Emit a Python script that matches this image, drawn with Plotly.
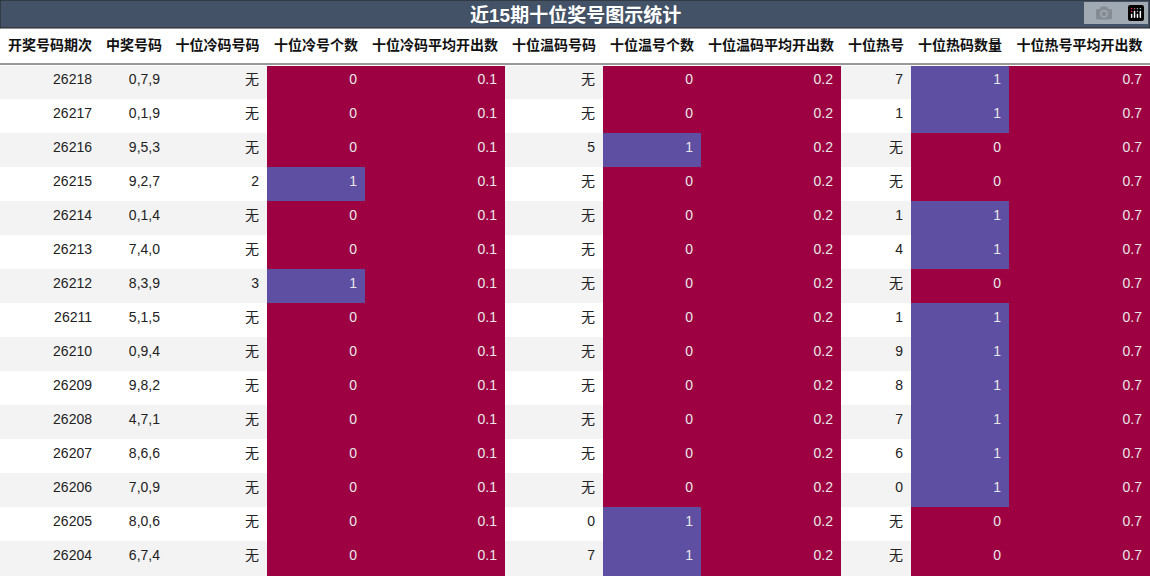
import plotly.graph_objects as go

title = "近15期十位奖号图示统计"
headers = ["开奖号码期次","中奖号码","十位冷码号码","十位冷号个数","十位冷码平均开出数","十位温码号码","十位温号个数","十位温码平均开出数","十位热号","十位热码数量","十位热号平均开出数"]
periods = [26218,26217,26216,26215,26214,26213,26212,26211,26210,26209,26208,26207,26206,26205,26204]
numbers = ["0,7,9","0,1,9","9,5,3","9,2,7","0,1,4","7,4,0","8,3,9","5,1,5","0,9,4","9,8,2","4,7,1","8,6,6","7,0,9","8,0,6","6,7,4"]
cold = ["无","无","无","2","无","无","3","无","无","无","无","无","无","无","无"]
cold_cnt = [0,0,0,1,0,0,1,0,0,0,0,0,0,0,0]
cold_avg = [0.1]*15
warm = ["无","无","5","无","无","无","无","无","无","无","无","无","无","0","7"]
warm_cnt = [0,0,1,0,0,0,0,0,0,0,0,0,0,1,1]
warm_avg = [0.2]*15
hot = ["7","1","无","无","1","4","无","1","9","8","7","6","0","无","无"]
hot_cnt = [1,1,0,0,1,1,0,1,1,1,1,1,1,0,0]
hot_avg = [0.7]*15

widths = [100,68,99,98,140,98,98,140,70,98,141]
PUR, RED = "#5e4fa2", "#9e0142"
stripe = ["#f3f3f3" if i % 2 == 0 else "#ffffff" for i in range(15)]
def cnt_fill(v): return [PUR if x == 1 else RED for x in v]
fills = [stripe, stripe, stripe, cnt_fill(cold_cnt), [RED]*15, stripe, cnt_fill(warm_cnt), [RED]*15, stripe, cnt_fill(hot_cnt), [RED]*15]
light = ["#222"]*15; wt = ["#e8e8e8"]*15
fcols = [light, light, light, wt, wt, light, wt, wt, light, wt, wt]

fig = go.Figure(go.Table(
    columnwidth=widths,
    domain=dict(x=[0,1], y=[0, 547/576]),
    header=dict(values=[f"<b>{h}</b>" for h in headers], fill_color="white", line_color="white",
                align="center", height=36, font=dict(size=14, color="#111", family="Liberation Sans, Noto Sans CJK SC")),
    cells=dict(values=[periods, numbers, cold, cold_cnt, cold_avg, warm, warm_cnt, warm_avg, hot, hot_cnt, hot_avg],
               fill_color=fills, line_color=[f for f in fills], align="right", height=34,
               font=dict(size=14, color=fcols, family="Liberation Sans, Noto Sans CJK SC")),
))
fig.add_shape(type="rect", xref="paper", yref="paper", x0=0, x1=1, y0=548/576, y1=1,
              fillcolor="#435266", line=dict(color="#222", width=1))
fig.add_shape(type="line", xref="paper", yref="paper", x0=0, x1=1, y0=512/576, y1=512/576,
              line=dict(color="#333", width=1))
fig.add_annotation(text=f"<b>{title}</b>", xref="paper", yref="paper", x=0.5, y=1, yanchor="top", yshift=-2,
                   showarrow=False, font=dict(size=19, color="white", family="Liberation Sans, Noto Sans CJK SC"))
fig.update_layout(width=1150, height=576, margin=dict(l=0, r=0, t=0, b=0), paper_bgcolor="white")
fig.write_html("out.html", post_script="document.body.style.margin='0';document.body.style.overflow='hidden';")
